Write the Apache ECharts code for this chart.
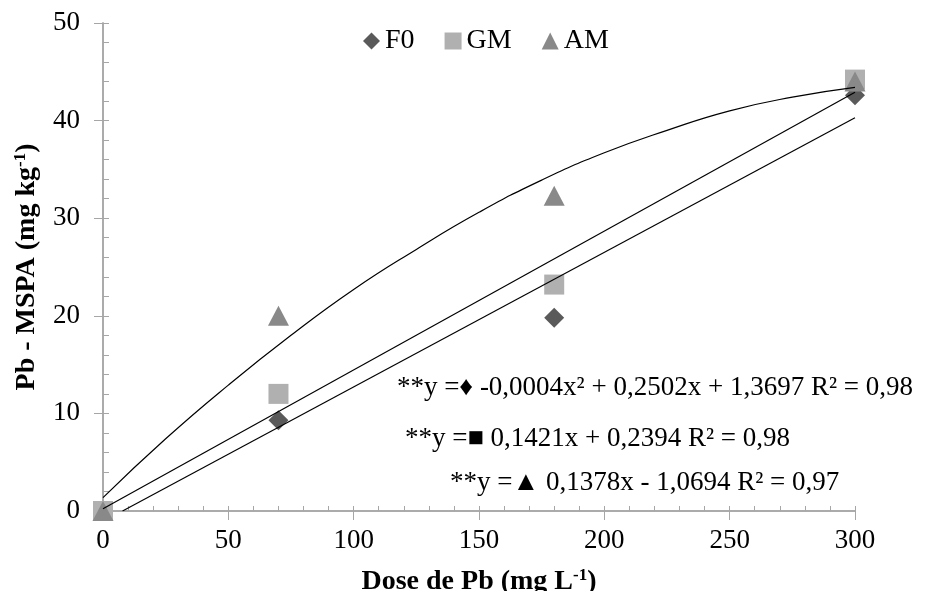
<!DOCTYPE html>
<html lang="pt">
<head>
  <meta charset="UTF-8" />
  <title>Pb - MSPA</title>
  <script src="https://cdn.jsdelivr.net/npm/echarts@6.0.0/dist/echarts.min.js"></script>
  <style>
    body { margin: 0; background: #fff; }
    #chart { width: 928px; height: 591px; }
  </style>
</head>
<body>
  <div id="chart"></div>
  <script>
    // observed points (dose, Pb)
    const f0 = [[0, 0], [70, 9.3], [180, 19.8], [300, 42.6]];
    const gm = [[0, 0], [70, 12.0], [180, 23.2], [300, 44.2]];
    const am = [[0, 0], [70, 20.0], [180, 32.3], [300, 44.0]];

    // trend lines
    const curveQuad = [[0, 1.37], [25, 7.4], [50, 12.9], [75, 18.0], [100, 22.7], [125, 26.8],
      [150, 30.6], [175, 33.9], [200, 36.7], [225, 39.0], [250, 41.0], [275, 42.4], [300, 43.4]];
    const lineGm = [[0, 0.24], [300, 42.9]];
    const lineAm = [[7.8, 0], [300, 40.3]];

    const equations = [
      '**y =♦ -0,0004x² + 0,2502x + 1,3697 R² = 0,98',
      '**y =■ 0,1421x + 0,2394 R² = 0,98',
      '**y =▲ 0,1378x - 1,0694 R² = 0,97'
    ];

    const font = 'Liberation Serif';
    const axisColor = '#a6a6a6';

    const chart = echarts.init(document.getElementById('chart'));

    const baseX = {
      type: 'value', min: 0, max: 300, interval: 50,
      axisLine: { show: true, lineStyle: { color: axisColor, width: 1.5 } },
      splitLine: { show: false }
    };
    const baseY = {
      type: 'value', min: 0, max: 50, interval: 10,
      axisLine: { show: true, lineStyle: { color: axisColor, width: 1.5 } },
      splitLine: { show: false }
    };
    const nameRich = {
      a: { fontFamily: font, fontSize: 28, fontWeight: 'bold', color: '#000' },
      s: { fontFamily: font, fontSize: 17, fontWeight: 'bold', color: '#000', verticalAlign: 'top', padding: [0, 0, 12, 0] }
    };

    chart.setOption({
      animation: false,
      grid: { left: 103, right: 73, top: 23, bottom: 80, outerBoundsMode: 'none', containLabel: false },
      legend: {
        top: 22, left: 358,
        itemWidth: 17, itemHeight: 17, itemGap: 30,
        textStyle: { fontFamily: font, fontSize: 28, color: '#000' },
        data: [
          { name: 'F0', icon: 'diamond' },
          { name: 'GM', icon: 'rect' },
          { name: 'AM', icon: 'triangle' }
        ]
      },
      xAxis: [
        Object.assign({}, baseX, {
          axisTick: { show: true, inside: false, length: 9, lineStyle: { color: axisColor } },
          axisLabel: { fontFamily: font, fontSize: 27, color: '#000', margin: 16 },
          name: '{a|Dose de Pb (mg L}{s|-1}{a|)}',
          nameLocation: 'middle', nameGap: 56,
          nameTextStyle: { rich: nameRich }
        }),
        Object.assign({}, baseX, {
          position: 'bottom',
          axisTick: { show: true, inside: true, length: 5, lineStyle: { color: axisColor } },
          minorTick: { show: true, splitNumber: 5, length: 5, lineStyle: { color: axisColor } },
          axisLabel: { show: false }
        })
      ],
      yAxis: [
        Object.assign({}, baseY, {
          axisTick: { show: true, inside: false, length: 9, lineStyle: { color: axisColor } },
          axisLabel: { fontFamily: font, fontSize: 27, color: '#000', margin: 23 },
          name: '{a|Pb - MSPA (mg kg}{s|-1}{a|)}',
          nameLocation: 'middle', nameGap: 62,
          nameTextStyle: { rich: nameRich }
        }),
        Object.assign({}, baseY, {
          position: 'left',
          axisTick: { show: true, inside: true, length: 6, lineStyle: { color: axisColor } },
          minorTick: { show: true, splitNumber: 5, length: 6, lineStyle: { color: axisColor } },
          axisLabel: { show: false }
        })
      ],
      series: [
        { name: 'F0', type: 'scatter', data: f0, symbol: 'diamond', symbolSize: [20, 20],
          itemStyle: { color: '#5a5a5a', opacity: 1 }, z: 3 },
        { name: 'GM', type: 'scatter', data: gm, symbol: 'rect', symbolSize: [20, 20],
          itemStyle: { color: '#b0b0b0', opacity: 1 }, z: 3 },
        { name: 'AM', type: 'scatter', data: am, symbol: 'triangle', symbolSize: [21, 20],
          itemStyle: { color: '#898989', opacity: 1 }, z: 3 },
        { type: 'line', data: curveQuad, smooth: true, showSymbol: false, symbol: 'none',
          lineStyle: { color: '#000', width: 1.2 }, z: 5, silent: true },
        { type: 'line', data: lineGm, showSymbol: false, symbol: 'none',
          lineStyle: { color: '#000', width: 1.2 }, z: 5, silent: true },
        { type: 'line', data: lineAm, showSymbol: false, symbol: 'none',
          lineStyle: { color: '#000', width: 1.2 }, z: 5, silent: true }
      ],
      graphic: [
        { type: 'text', x: 913, y: 388,
          style: { text: equations[0], font: '27px "Liberation Serif"', fill: '#000', align: 'right', verticalAlign: 'middle' } },
        { type: 'text', x: 405, y: 439,
          style: { text: equations[1], font: '27px "Liberation Serif"', fill: '#000', align: 'left', verticalAlign: 'middle' } },
        { type: 'text', x: 450, y: 483,
          style: { text: equations[2], font: '27px "Liberation Serif"', fill: '#000', align: 'left', verticalAlign: 'middle' } }
      ]
    });
  </script>
</body>
</html>
